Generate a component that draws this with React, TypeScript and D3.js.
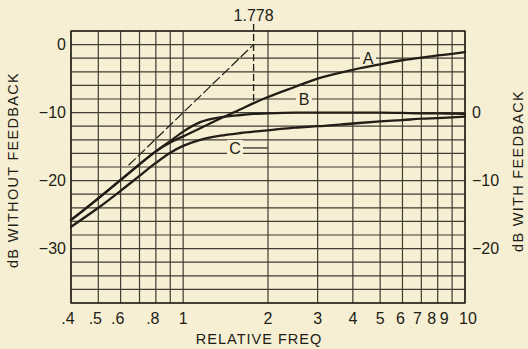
import React from "react";
import * as d3 from "d3";

const freqs = [0.4, 0.5, 0.6, 0.7, 0.8, 0.9, 1.0, 1.15, 1.35, 1.6, 1.778, 2, 2.5, 3, 4, 5, 6, 7, 8, 9, 10];
const curveA = [-25.8, -22.6, -19.9, -17.6, -15.7, -14.4, -13.5, -12.3, -10.9, -9.5, -8.6, -7.7, -6.2, -5.0, -3.7, -2.9, -2.3, -1.9, -1.6, -1.35, -1.1];
const curveB = [-25.8, -22.6, -19.9, -17.6, -15.7, -14.2, -12.8, -11.4, -10.7, -10.35, -10.2, -10.1, -10.0, -10.0, -10.0, -10.0, -10.05, -10.1, -10.1, -10.15, -10.2];
const curveC = [-26.8, -24.0, -21.5, -19.3, -17.4, -15.9, -14.9, -14.0, -13.4, -13.0, -12.8, -12.6, -12.2, -12.0, -11.6, -11.3, -11.1, -10.9, -10.8, -10.7, -10.6];

const asymptoteF = [0.64, 1.778];
const asymptoteDb = [-17.75, 0];
const markerF = 1.778;
const markerLabel = "1.778";

const xGrid = [0.4, 0.5, 0.6, 0.7, 0.8, 0.9, 1, 2, 3, 4, 5, 6, 7, 8, 9, 10];
const xTickValues = [0.4, 0.5, 0.6, 0.8, 1, 2, 3, 4, 5, 6, 7, 8, 9, 10];
const xTickLabels = [".4", ".5", ".6", ".8", "1", "2", "3", "4", "5", "6", "7", "8", "9", "10"];
const yGrid = d3.range(2, -39, -2);
const yLeftTicks = [0, -10, -20, -30];
const yRightTicks = [0, -10, -20];
const rightOffset = 10; // right axis = left axis + 10 dB

const PAPER = "#f7efd3";
const INK = "#221d16";
const FONT = "'Liberation Sans', Arial, sans-serif";

export default function App() {
  const W = 528, H = 349;
  const left = 71, right = 465, top = 31, bottom = 303;
  const x = d3.scaleLog().domain([0.4, 10]).range([left, right]);
  const y = d3.scaleLinear().domain([2, -38]).range([top, bottom]);

  const mk = (vals: number[]) =>
    d3.line<number>().x((_, i) => x(freqs[i])).y((d) => y(d)).curve(d3.curveMonotoneX)(vals) || "";

  const fmt = (v: number) => (v < 0 ? "\u2212" + Math.abs(v) : String(v));
  const aAtMarker = curveA[freqs.indexOf(markerF)];

  // crowd-avoidance nudge for the tight high-frequency labels
  const labelDx = (v: number) => (v < 1 ? -3 : v >= 6 && v <= 9 ? -(v - 5) * 2 : v === 10 ? 3 : 0);

  const labels = [
    { t: "A", x: 368, y: y(-2) },
    { t: "B", x: 304, y: y(-8) },
    { t: "C", x: 235, y: y(-15.2) },
  ];

  return (
    <svg width={W} height={H} style={{ position: "fixed", left: 0, top: 0, background: PAPER }}>
      <rect x={0} y={0} width={W} height={H} fill={PAPER} />
      {/* grid */}
      <g stroke={INK} strokeWidth={1.2} opacity={0.85}>
        {xGrid.map((f) => (
          <line key={"vx" + f} x1={x(f)} x2={x(f)} y1={top} y2={bottom} />
        ))}
        {yGrid.map((d) => (
          <line key={"hy" + d} x1={left} x2={right} y1={y(d)} y2={y(d)} />
        ))}
      </g>
      <rect x={left} y={top} width={right - left} height={bottom - top} fill="none" stroke={INK} strokeWidth={1.4} />

      {/* curve labels with knockout */}
      {labels.map((l) => (
        <g key={l.t}>
          <rect x={l.x - 8} y={l.y - 8} width={16} height={16} fill={PAPER} />
          <text x={l.x} y={l.y + 6} textAnchor="middle" fontFamily={FONT} fontSize={16} fill={INK}>
            {l.t}
          </text>
        </g>
      ))}
      <line x1={243} x2={268} y1={y(-15.2)} y2={y(-15.2)} stroke={INK} strokeWidth={1.2} />

      {/* marker line at 1.778 */}
      <line x1={x(markerF)} x2={x(markerF)} y1={24} y2={y(aAtMarker)} stroke={INK} strokeWidth={1.3} strokeDasharray="7,3" />
      <text x={x(markerF)} y={21} textAnchor="middle" fontFamily={FONT} fontSize={16} fill={INK}>
        {markerLabel}
      </text>

      {/* asymptote */}
      <line
        x1={x(asymptoteF[0])}
        y1={y(asymptoteDb[0])}
        x2={x(asymptoteF[1])}
        y2={y(asymptoteDb[1])}
        stroke={INK}
        strokeWidth={1.2}
        strokeDasharray="10,3"
      />

      {/* curves */}
      <g fill="none" stroke={INK} strokeWidth={2.3} strokeLinecap="round">
        <path d={mk(curveC)} />
        <path d={mk(curveB)} />
        <path d={mk(curveA)} />
      </g>

      {/* x tick labels */}
      {xTickValues.map((v, i) => (
        <text key={"xt" + v} x={x(v) + labelDx(v)} y={324} textAnchor="middle" fontFamily={FONT} fontSize={16} fill={INK}>
          {xTickLabels[i]}
        </text>
      ))}
      <text x={259} y={344} textAnchor="middle" fontFamily={FONT} fontSize={14.5} letterSpacing={1} fill={INK}>
        RELATIVE FREQ
      </text>

      {/* left ticks */}
      {yLeftTicks.map((v) => (
        <text key={"yl" + v} x={66} y={y(v) + 5.5} textAnchor="end" fontFamily={FONT} fontSize={16} fill={INK}>
          {fmt(v)}
        </text>
      ))}
      {/* right ticks */}
      {yRightTicks.map((v) => (
        <text key={"yr" + v} x={472} y={y(v - rightOffset) + 5.5} textAnchor="start" fontFamily={FONT} fontSize={16} fill={INK}>
          {fmt(v)}
        </text>
      ))}

      <text
        transform={`translate(18,${170}) rotate(-90)`}
        textAnchor="middle"
        fontFamily={FONT}
        fontSize={14.5}
        letterSpacing={1.3}
        fill={INK}
      >
        dB WITHOUT FEEDBACK
      </text>
      <text
        transform={`translate(523,${171}) rotate(-90)`}
        textAnchor="middle"
        fontFamily={FONT}
        fontSize={14.5}
        letterSpacing={1.3}
        fill={INK}
      >
        dB WITH FEEDBACK
      </text>
    </svg>
  );
}
